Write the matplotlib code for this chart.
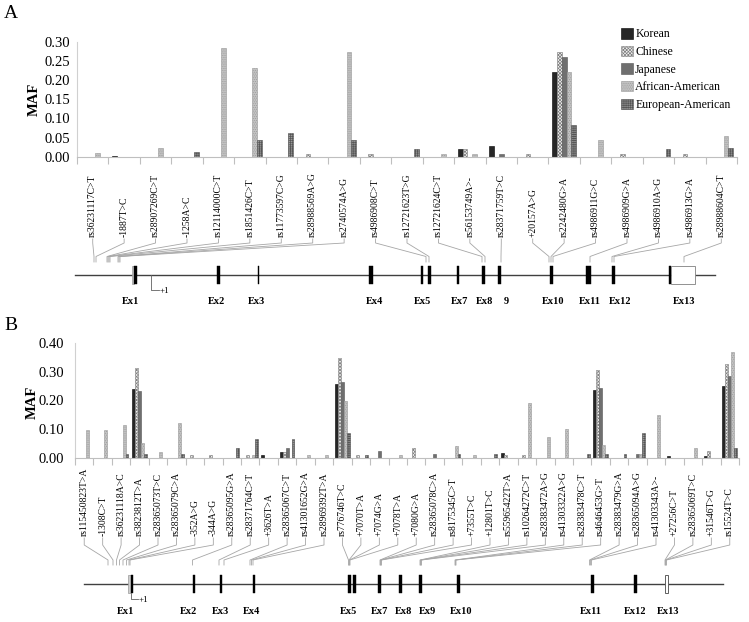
import numpy as np
import matplotlib
matplotlib.use("Agg")
import matplotlib.pyplot as plt
from matplotlib.patches import Rectangle

plt.rcParams['font.family'] = ['Liberation Serif', 'DejaVu Serif']
plt.rcParams['hatch.linewidth'] = 0.5

W, H = 749, 622

populations = ['Korean', 'Chinese', 'Japanese', 'African-American', 'European-American']

# ---------------- panel A data ----------------
snps_a = ['rs36231117C>T', '-1887T>C', 'rs28907269C>T', '-1258A>C', 'rs12114000C>T',
          'rs1851426C>T', 'rs11773597C>G', 'rs28988569A>G', 'rs2740574A>G', 'rs4986908C>T',
          'rs12721623T>G', 'rs12721624C>T', 'rs56153749A>-', 'rs28371759T>C', '+20157A>G',
          'rs2242480G>A', 'rs4986911G>C', 'rs4986909G>A', 'rs4986910A>G', 'rs4986913G>A',
          'rs28988604C>T']
a_korean   = [0, 0.003, 0, 0, 0, 0, 0, 0, 0, 0, 0, 0, 0.02, 0.028, 0, 0.22, 0, 0, 0, 0, 0]
a_chinese  = [0, 0, 0, 0, 0, 0, 0, 0.008, 0, 0.008, 0, 0, 0.02, 0, 0.008, 0.273, 0, 0.008, 0, 0.008, 0]
a_japanese = [0, 0, 0, 0, 0, 0, 0, 0, 0, 0, 0, 0, 0, 0.008, 0, 0.261, 0, 0, 0, 0, 0]
a_african  = [0.009, 0, 0.022, 0, 0.283, 0.231, 0, 0, 0.273, 0, 0, 0.008, 0.008, 0, 0, 0.22, 0.044, 0, 0, 0, 0.054]
a_european = [0, 0, 0, 0.011, 0, 0.044, 0.063, 0, 0.044, 0, 0.021, 0, 0, 0, 0, 0.083, 0, 0, 0.021, 0, 0.022]
# SNP position on the gene map
a_snp_pos = [94, 96, 107, 108, 109, 110, 118, 119, 120, 426, 429, 482, 485, 501, 549, 551, 553,
             590, 612, 614, 684]
a_exons = [('Ex1', 131.5, 137.3), ('Ex2', 216.7, 220), ('Ex3', 257.8, 259.3), ('Ex4', 369.3, 372.7),
           ('Ex5', 420.7, 423.3), ('Ex6', 428.3, 430.7), ('Ex7', 456.7, 459.3), ('Ex8', 481.7, 485),
           ('Ex9', 498.3, 500.7), ('Ex10', 550, 552.7), ('Ex11', 585.7, 590.7), ('Ex12', 611.7, 615),
           ('Ex13', 669, 695)]
a_exon_labels = [('Ex1', 131), ('Ex2', 217), ('Ex3', 257), ('Ex4', 375), ('Ex5', 423), ('Ex7', 460),
                 ('Ex8', 485), ('9', 506), ('Ex10', 553), ('Ex11', 590), ('Ex12', 620), ('Ex13', 684)]

# ---------------- panel B data ----------------
snps_b = ['rs115450823T>A', '-1308C>T', 'rs36231118A>C', 'rs3823812T>A', 'rs28365073T>C',
          'rs28365079C>A', '-352A>G', '-344A>G', 'rs28365095G>A', 'rs28371764C>T', '+3626T>A',
          'rs28365067C>T', 'rs41301652G>A', 'rs28969392T>A', 'rs776746T>C', '+7070T>A',
          '+7074G>A', '+7078T>A', '+7080G>A', 'rs28365078C>A', 'rs8175345C>T', '+7355T>C',
          '+12801T>C', 'rs55965422T>A', 'rs10264272C>T', 'rs28383472A>G', 'rs41303322A>G',
          'rs28383478C>T', 'rs4646453G>T', 'rs28383479G>A', 'rs28365094A>G', 'rs41303343A>-',
          '+27256C>T', 'rs28365069T>C', '+31546T>G', 'rs15524T>C']
b_korean = [0, 0, 0, 0.24, 0, 0, 0, 0, 0, 0, 0.01, 0.021, 0, 0, 0.259, 0, 0, 0, 0, 0, 0, 0,
            0, 0.016, 0, 0, 0, 0, 0.238, 0, 0, 0, 0.004, 0, 0.005, 0.25]
b_chinese = [0, 0, 0, 0.315, 0, 0, 0.01, 0.01, 0, 0.01, 0, 0.021, 0, 0, 0.347, 0.01, 0, 0, 0.034, 0,
             0, 0, 0, 0.01, 0.01, 0, 0, 0, 0.305, 0, 0, 0, 0, 0, 0.022, 0.326]
b_japanese = [0, 0, 0, 0.232, 0, 0, 0, 0, 0, 0, 0, 0.034, 0, 0, 0.263, 0, 0.022, 0, 0, 0.013,
              0, 0, 0, 0, 0, 0, 0, 0, 0.243, 0, 0.012, 0, 0, 0, 0, 0.286]
b_african = [0.095, 0.095, 0.115, 0.052, 0.021, 0.12, 0, 0, 0, 0.01, 0, 0, 0.01, 0.01, 0.199, 0,
             0, 0.01, 0, 0, 0.042, 0.01, 0, 0, 0.19, 0.073, 0.101, 0, 0.043, 0, 0.012, 0.148,
             0, 0.033, 0, 0.37]
b_european = [0, 0, 0.012, 0.012, 0, 0.012, 0, 0, 0.033, 0.064, 0, 0.064, 0, 0, 0.087, 0.01, 0, 0,
              0, 0, 0.012, 0, 0.012, 0, 0, 0, 0, 0.012, 0.012, 0.012, 0.085, 0, 0, 0, 0, 0.033]
b_snp_pos = [108, 113, 116.5, 119.5, 123, 126.5, 129, 130, 192.5, 219, 224, 250, 251.5, 253,
             348.5, 349, 349.5, 350, 380, 380.5, 381, 381.5, 420, 420.5, 421, 421.5, 455, 455.5,
             456, 589.5, 590.5, 591.5, 665, 665.5, 666, 666.5]
b_exons = [('Ex1', 128.3, 133.3), ('Ex2', 192.7, 195), ('Ex3', 220, 222), ('Ex4', 252.7, 255),
           ('Ex5', 348.3, 350.7), ('Ex6', 353.3, 356), ('Ex7', 378.3, 380.7), ('Ex8', 399, 401.7),
           ('Ex9', 419.3, 421.7), ('Ex10', 457.3, 460), ('Ex11', 591, 593.7), ('Ex12', 634.3, 636.7),
           ('Ex13', 665, 668.3)]
b_exon_labels = [('Ex1', 126), ('Ex2', 189), ('Ex3', 220), ('Ex4', 252), ('Ex5', 348.5),
                 ('Ex7', 380), ('Ex8', 403.6), ('Ex9', 427.8), ('Ex10', 461), ('Ex11', 591),
                 ('Ex12', 635), ('Ex13', 668)]

styles = [
    dict(facecolor='#262626', edgecolor='#000000', hatch=None),
    dict(facecolor='#f0f0f0', edgecolor='#808080', hatch='xxxxxxxxxx'),
    dict(facecolor='#6f6f6f', edgecolor='#555555', hatch=None),
    dict(facecolor='#c4c4c4', edgecolor='#9a9a9a', hatch='.........'),
    dict(facecolor='#9a9a9a', edgecolor='#555555', hatch='++++++++'),
]

fig = plt.figure(figsize=(W / 100, H / 100), dpi=100)
ov = fig.add_axes([0, 0, 1, 1], zorder=0)
ov.set_xlim(0, W)
ov.set_ylim(H, 0)
ov.axis('off')


def px_axes(l, t, r, b):
    return fig.add_axes([l / W, 1 - b / H, (r - l) / W, (b - t) / H], zorder=1)


def bar_panel(ax, series, width, ymax, step, pad, tsize):
    n = len(series[0])
    x = np.arange(n)
    handles = []
    for k, (vals, st) in enumerate(zip(series, styles)):
        vals = np.asarray(vals, dtype=float)
        m = vals > 0
        b = ax.bar(x[m] + (k - 2) * width, vals[m], width, linewidth=0.4, **st)
        handles.append(b)
    ax.set_xlim(-0.5, n - 0.5)
    ax.set_ylim(0, ymax)
    ax.set_yticks(np.arange(0, ymax + 1e-9, step))
    ax.set_yticklabels(['%.2f' % v for v in np.arange(0, ymax + 1e-9, step)])
    ax.set_xticks(np.arange(n + 1) - 0.5)
    ax.set_xticklabels([])
    ax.tick_params(axis='x', length=5, color='#bfbfbf', width=0.8)
    ax.tick_params(axis='y', length=0, labelsize=tsize, pad=pad)
    for s in ['top', 'right']:
        ax.spines[s].set_visible(False)
    ax.spines['left'].set_color('#d0d0d0')
    ax.spines['bottom'].set_color('#bfbfbf')
    ax.patch.set_alpha(0)
    return handles


def cat_px(ax, i):
    d = ax.transData.transform((i, 0))
    return ov.transData.inverted().transform(d)[0]


def gene_panel(ax, snps, pos, exons, exlabels, label_y, leader, line_y, line_x, half, lab_y, plus1):
    for i, (name, p) in enumerate(zip(snps, pos)):
        lx = cat_px(ax, i)
        ov.text(lx, label_y, name, rotation=90, ha='center', va='bottom', fontsize=6.9)
        y0, y1, y2, y3 = leader
        ov.plot([lx, lx, p, p], [y0, y1, y2, y3], color='#a6a6a6', lw=0.6)
    ov.plot(line_x, [line_y, line_y], color='#404040', lw=1.0)
    for k, (name, s, e) in enumerate(exons):
        if name == 'Ex1':
            ov.add_patch(Rectangle((s, line_y - half), 2.5, 2 * half, facecolor='#cfcfcf',
                                   edgecolor='#999999', lw=0.5, zorder=3))
            ov.add_patch(Rectangle((s + 2.5, line_y - half), e - s - 2.5, 2 * half,
                                   facecolor='black', edgecolor='black', lw=0.3, zorder=3))
        elif name == 'Ex13' and e - s > 10:
            ov.add_patch(Rectangle((s, line_y - half), 1.7, 2 * half, facecolor='black',
                                   edgecolor='black', lw=0.3, zorder=3))
            ov.add_patch(Rectangle((s + 1.7, line_y - half), e - s - 1.7, 2 * half,
                                   facecolor='white', edgecolor='#808080', lw=0.6, zorder=3))
        elif name == 'Ex13':
            ov.add_patch(Rectangle((s, line_y - half), e - s, 2 * half, facecolor='white',
                                   edgecolor='#606060', lw=0.7, zorder=3))
        else:
            ov.add_patch(Rectangle((s, line_y - half), e - s, 2 * half, facecolor='black',
                                   edgecolor='black', lw=0.3, zorder=3))
    for name, x in exlabels:
        ov.text(x, lab_y, name, ha='center', va='center', fontsize=7.5, fontweight='bold')
    px, py, pe = plus1
    ov.plot([px, px, pe], [line_y, py, py], color='#606060', lw=0.6)
    ov.text(pe + 1, py + 1, '+1', ha='left', va='center', fontsize=6.5)


# ---------------- panel A ----------------
ax_a = px_axes(77, 41.7, 737, 156.7)
hs = bar_panel(ax_a, [a_korean, a_chinese, a_japanese, a_african, a_european], 0.153, 0.30, 0.05, 5, 10.5)
ax_a.legend(hs, populations, loc='upper left', bbox_to_anchor=(621 / W, 1 - 28 / H),
            bbox_transform=fig.transFigure, frameon=False, fontsize=8.5, handlelength=1.0,
            handleheight=1.0, handletextpad=0.2, labelspacing=0.45, borderpad=0, borderaxespad=0)
gene_panel(ax_a, snps_a, a_snp_pos, a_exons, a_exon_labels, 237, (239, 243, 256.5, 262),
           275, [75, 715], 8.7, 302, (150.7, 290, 159))
ov.text(34, 99, 'MAF', rotation=90, ha='center', va='center', fontsize=10.5, fontweight='bold')
ov.text(11, 14, 'A', ha='center', va='center', fontsize=14)

# ---------------- panel B ----------------
ax_b = px_axes(75, 343.2, 739, 457.6)
bar_panel(ax_b, [b_korean, b_chinese, b_japanese, b_african, b_european], 0.16, 0.40, 0.10, 8, 10.5)
gene_panel(ax_b, snps_b, b_snp_pos, b_exons, b_exon_labels, 536, (538, 545, 560, 565),
           584, [84, 723], 9, 611, (130.5, 599, 138))
ov.text(32, 402, 'MAF', rotation=90, ha='center', va='center', fontsize=10.5, fontweight='bold')
ov.text(11, 326, 'B', ha='center', va='center', fontsize=14)

fig.savefig('out.png', dpi=100)
